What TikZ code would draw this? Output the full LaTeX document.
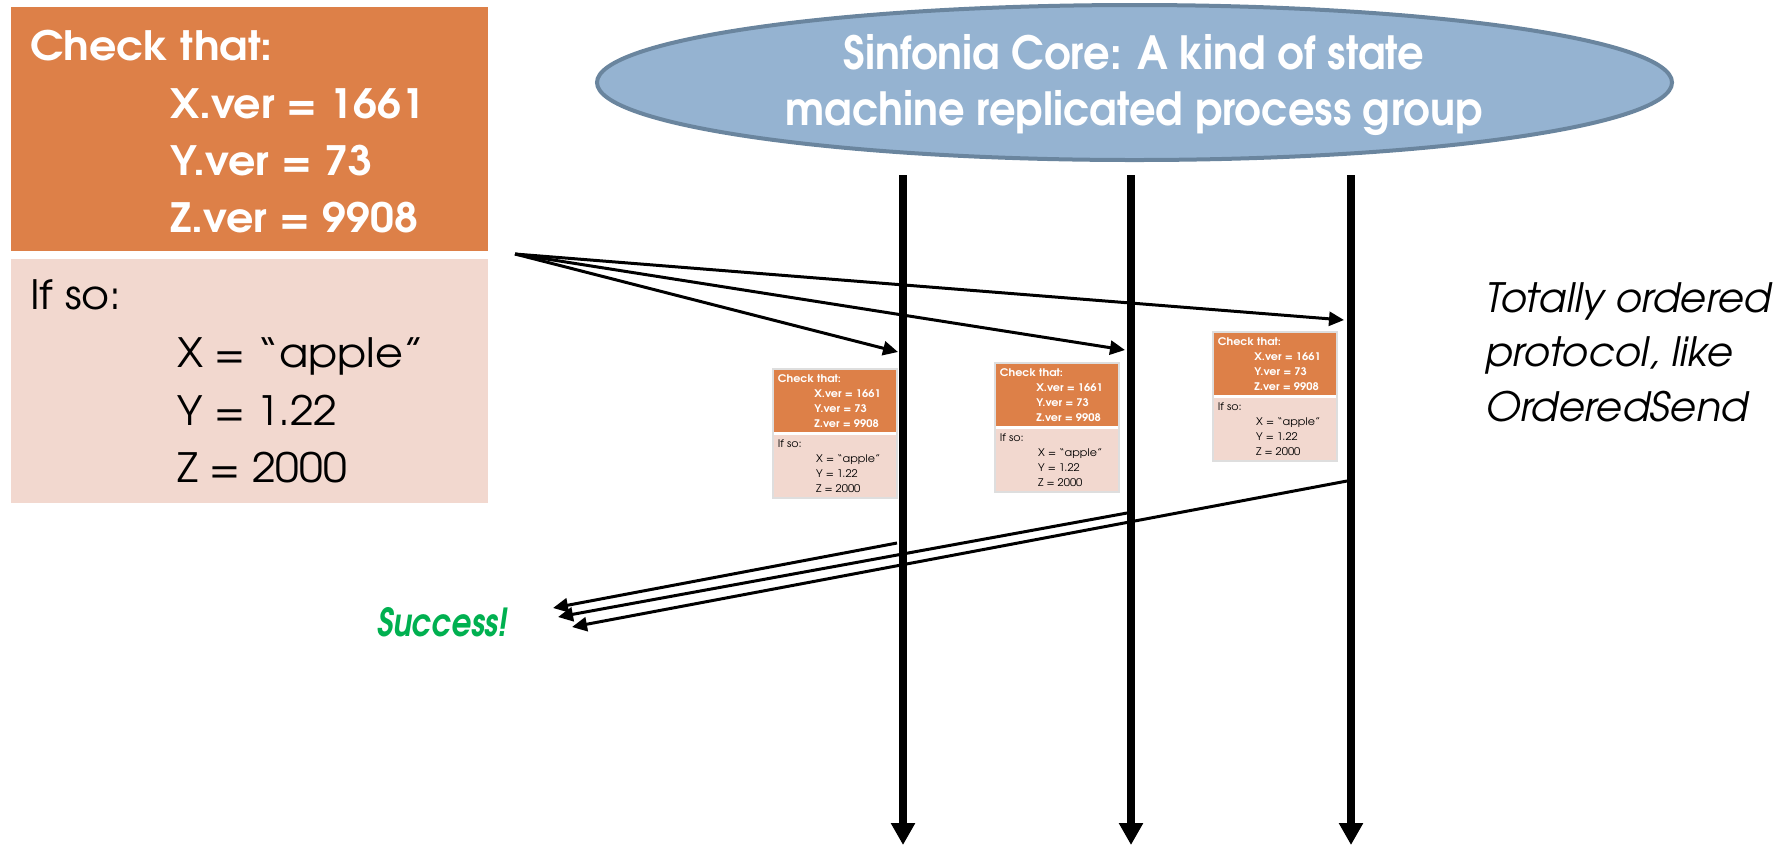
\documentclass[tikz,border=0pt]{standalone}
\usepackage{fontspec}
\setmainfont{texgyreadventor}[Extension=.otf, UprightFont=*-regular,
  BoldFont=*-bold, ItalicFont=*-italic, BoldItalicFont=*-bolditalic]
\usetikzlibrary{arrows.meta,positioning,shapes.geometric}

\definecolor{chkorange}{HTML}{DD8048}
\definecolor{setpink}{HTML}{F2D8CF}
\definecolor{corefill}{HTML}{95B3D1}
\definecolor{coreline}{HTML}{6A859E}
\definecolor{okgreen}{HTML}{00B050}

% a transaction: the version checks on top, the writes below
% #1 name prefix, #2/#3 top left corner, #4 scale, #5 frame style
\newcommand{\txnbox}[5]{%
  \begin{scope}[shift={(#2,#3)}, scale=#4, transform shape]
    \fill[chkorange] (0,0) rectangle (4.77,-2.44);
    \fill[setpink]   (0,-2.52) rectangle (4.77,-4.96);
    \draw[#5] (0,0) rectangle (4.77,-4.96);
    \node[chktxt] (#1-chk) at (0.19,-0.53) {Check that:};
    \node[chktxt] (#1-xv)  at (1.59,-1.11) {X.ver = 1661};
    \node[chktxt] (#1-yv)  at (1.59,-1.68) {Y.ver = 73};
    \node[chktxt] (#1-zv)  at (1.59,-2.25) {Z.ver = 9908};
    \node[settxt] (#1-if)  at (0.19,-3.02) {If so:};
    \node[settxt] (#1-x)   at (1.66,-3.60) {X = ``apple''};
    \node[settxt] (#1-y)   at (1.66,-4.18) {Y = 1.22};
    \node[settxt] (#1-z)   at (1.66,-4.75) {Z = 2000};
  \end{scope}}

\begin{document}
\begin{tikzpicture}[
  x=1cm, y=1cm,
  every node/.style={inner sep=0pt, outer sep=0pt, font=\fontsize{11.5}{16}\selectfont},
  chktxt/.style={anchor=base west, text=white, xscale=1.06,
    font=\fontsize{11.5}{16}\selectfont\bfseries},
  settxt/.style={anchor=base west, text=black, xscale=1.06},
  miniframe/.style={draw=black!13, line width=0.2mm},
  core/.style={ellipse, fill=corefill, draw=coreline, line width=0.4mm,
    minimum width=10.75cm, minimum height=1.55cm},
  coretxt/.style={anchor=base, text=white, xscale=0.91,
    font=\fontsize{13}{16}\selectfont\bfseries},
  proc/.style={line width=0.8mm, -{Triangle[length=2.2mm,width=2.3mm]}},
  msg/.style={line width=0.3mm, -{Triangle[length=1.5mm,width=1.4mm]}}]

\useasboundingbox (0,0) rectangle (17.78,-8.45);

% ---- the transaction that the client hands in ----------------------------
\txnbox{req}{0.11}{-0.07}{1}{draw=none}

% ---- the replicated group -------------------------------------------------
\node[core] (core) at (11.345,-0.825) {};
\node[coretxt] (core-l1) at (11.34,-0.69) {Sinfonia Core: A kind of state};
\node[coretxt] (core-l2) at (11.34,-1.25) {machine replicated process group};

\coordinate (p1top) at ( 9.03,-1.75);  \coordinate (p1bot) at ( 9.03,-8.45);
\coordinate (p2top) at (11.31,-1.75);  \coordinate (p2bot) at (11.31,-8.45);
\coordinate (p3top) at (13.51,-1.75);  \coordinate (p3bot) at (13.51,-8.45);
\foreach \p in {1,2,3}
  \draw[proc] (p\p top) -- (p\p bot);

% ---- each member gets its own copy -----------------------------------------
\txnbox{r1}{7.73}{-3.69}{0.26}{miniframe}
\txnbox{r2}{9.95}{-3.63}{0.26}{miniframe}
\txnbox{r3}{12.13}{-3.32}{0.26}{miniframe}

% ---- the ordered multicast, and the replies ---------------------------------
\coordinate (src)  at ( 5.15,-2.54);
\coordinate (rcv1) at ( 8.98,-3.52);
\coordinate (rcv2) at (11.25,-3.50);
\coordinate (rcv3) at (13.44,-3.20);
\foreach \r in {1,2,3}
  \draw[msg] (src) -- (rcv\r);

\coordinate (ack1) at ( 8.97,-5.43);  \coordinate (ret1) at (5.53,-6.08);
\coordinate (ack2) at (11.27,-5.13);  \coordinate (ret2) at (5.58,-6.17);
\coordinate (ack3) at (13.47,-4.81);  \coordinate (ret3) at (5.72,-6.27);
\foreach \r in {1,2,3}
  \draw[msg] (ack\r) -- (ret\r);

\node[anchor=base east, text=okgreen, xscale=0.8,
  font=\fontsize{11}{13}\selectfont\bfseries\itshape]
  (success) at (5.07,-6.36) {Success!};

% the base of a multi-line node is its last line
\node[anchor=base west, align=left, font=\fontsize{11.5}{15.4}\selectfont\itshape]
  (note) at (14.85,-4.21) {Totally ordered\\protocol, like\\OrderedSend};

\end{tikzpicture}
\end{document}
